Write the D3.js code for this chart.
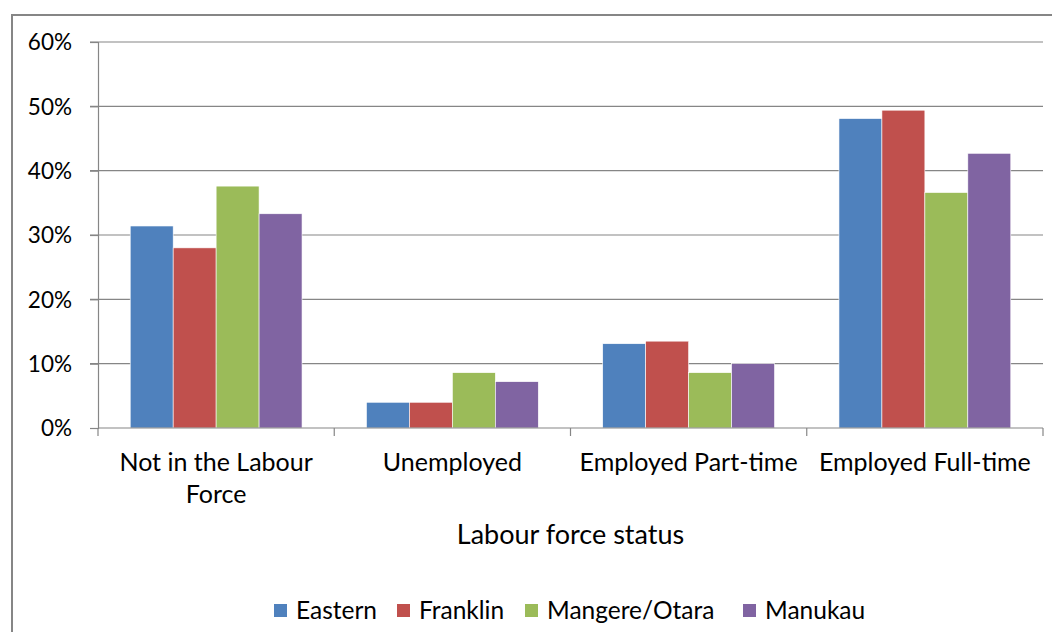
<!DOCTYPE html>
<html>
<head>
<meta charset="utf-8">
<script src="https://cdn.jsdelivr.net/npm/d3@7"></script>
<style>
  body { margin: 0; background: #fff; }
  text { font-family: Lato, "Open Sans", sans-serif; fill: #000; }
</style>
</head>
<body>
<div id="chart"></div>
<script>
var categories = ["Not in the Labour Force", "Unemployed", "Employed Part-time", "Employed Full-time"];
var seriesNames = ["Eastern", "Franklin", "Mangere/Otara", "Manukau"];
var eastern = [31.4, 4.0, 13.1, 48.1];
var franklin = [28.0, 4.0, 13.5, 49.4];
var mangereOtara = [37.6, 8.6, 8.6, 36.6];
var manukau = [33.3, 7.2, 10.0, 42.7];
var yTicks = [0, 10, 20, 30, 40, 50, 60];
var colors = ["#4F81BD", "#C0504D", "#9BBB59", "#8064A2"];

var series = [eastern, franklin, mangereOtara, manukau];

var W = 1052, H = 632;
var margin = {top: 42, right: 9, bottom: 204, left: 98},
    width = W - margin.left - margin.right,
    height = H - margin.top - margin.bottom;

var svg = d3.select("#chart").append("svg")
    .attr("width", W)
    .attr("height", H);

// outer chart border
svg.append("rect")
    .attr("x", 12).attr("y", 15)
    .attr("width", W + 20).attr("height", H + 20)
    .attr("fill", "none")
    .attr("stroke", "#868686")
    .attr("stroke-width", 2);

var g = svg.append("g")
    .attr("transform", "translate(" + margin.left + "," + margin.top + ")");

var x = d3.scaleBand().domain(categories).range([0, width]).paddingInner(0).paddingOuter(0);
var y = d3.scaleLinear().domain([0, 60]).range([height, 0]);

// bars: gap width 150% of a bar
var barW = x.bandwidth() / (series.length + 1.5);
var x1 = d3.scaleBand().domain(d3.range(series.length))
    .range([barW * 0.75, barW * 0.75 + barW * series.length]);

// gridlines
g.selectAll(".grid").data(yTicks.slice(1)).enter().append("line")
    .attr("x1", -8).attr("x2", width)
    .attr("y1", function(d) { return y(d); })
    .attr("y2", function(d) { return y(d); })
    .attr("stroke", "#868686").attr("stroke-width", 1.2);

// y axis
var yAxis = g.append("g")
    .call(d3.axisLeft(y).tickValues(yTicks).tickSize(8).tickPadding(18)
      .tickFormat(function(d) { return d + "%"; }));
yAxis.select(".domain").attr("stroke", "#868686").attr("stroke-width", 1.2);
yAxis.selectAll(".tick line").attr("stroke", "#868686").attr("stroke-width", 1.2);
yAxis.selectAll("text").style("font-size", "22.5px").attr("dy", "0.35em");

var groups = g.selectAll(".cat").data(categories).enter().append("g")
    .attr("transform", function(d) { return "translate(" + x(d) + ",0)"; });

groups.selectAll("rect")
    .data(function(d, i) { return series.map(function(s, j) { return {j: j, v: s[i]}; }); })
    .enter().append("rect")
    .attr("x", function(d) { return x1(d.j); })
    .attr("width", x1.bandwidth())
    .attr("y", function(d) { return y(d.v); })
    .attr("height", function(d) { return height - y(d.v); })
    .attr("fill", function(d) { return colors[d.j]; })
    .attr("stroke", "#fff").attr("stroke-width", 0.6);

// x axis
var xAxis = g.append("g")
    .attr("transform", "translate(0," + height + ")");
xAxis.append("line").attr("x1", 0).attr("x2", width)
    .attr("stroke", "#868686").attr("stroke-width", 1.2);
xAxis.selectAll(".tk").data(d3.range(categories.length + 1)).enter().append("line")
    .attr("x1", function(i) { return i * x.step(); })
    .attr("x2", function(i) { return i * x.step(); })
    .attr("y1", 0).attr("y2", 8)
    .attr("stroke", "#868686").attr("stroke-width", 1.2);

var labelLines = {
  "Not in the Labour Force": ["Not in the Labour", "Force"]
};
xAxis.selectAll(".lbl").data(categories).enter().append("text")
    .attr("text-anchor", "middle")
    .style("font-size", "25px")
    .attr("transform", function(d) { return "translate(" + (x(d) + x.bandwidth() / 2) + ",43)"; })
    .each(function(d) {
      var lines = labelLines[d] || [d];
      var t = d3.select(this);
      lines.forEach(function(l, k) {
        t.append("tspan").attr("x", 0).attr("y", k * 32).text(l);
      });
    });

// axis title
svg.append("text")
    .attr("x", margin.left + width / 2)
    .attr("y", 544)
    .attr("text-anchor", "middle")
    .style("font-size", "27px")
    .text("Labour force status");

// legend
var legendX = [274, 397, 525, 743];
var legend = svg.selectAll(".leg").data(seriesNames).enter().append("g")
    .attr("transform", function(d, i) { return "translate(" + legendX[i] + ",604)"; });
legend.append("rect").attr("width", 13).attr("height", 13)
    .attr("fill", function(d, i) { return colors[i]; });
legend.append("text").attr("x", 22).attr("y", 15)
    .style("font-size", "24.5px")
    .text(function(d) { return d; });
</script>
</body>
</html>
